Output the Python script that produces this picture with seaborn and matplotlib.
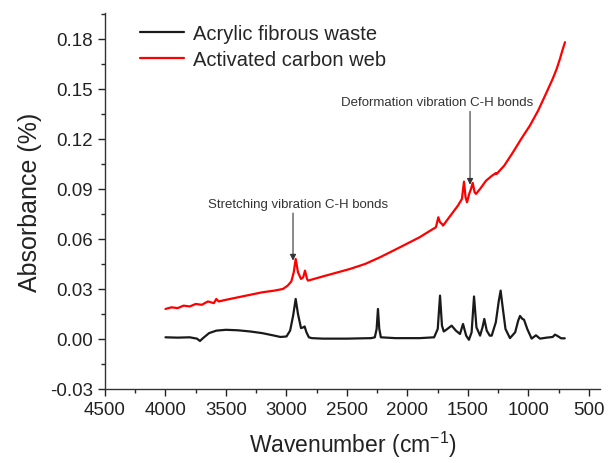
import numpy as np
import pandas as pd
import matplotlib
matplotlib.use("Agg")
import matplotlib.pyplot as plt
import seaborn as sns
from matplotlib.ticker import MultipleLocator

# ---- data ----
black_wn = [4000, 3900, 3800, 3740, 3715, 3690, 3640, 3580, 3500, 3400, 3300, 3200,
            3100, 3050, 3000, 2970, 2945, 2924, 2905, 2880, 2860, 2850, 2835, 2815,
            2790, 2700, 2500, 2300, 2270, 2255, 2244, 2233, 2220, 2100, 1900, 1780,
            1750, 1731, 1715, 1700, 1680, 1635, 1600, 1566, 1541, 1515, 1492, 1470,
            1450, 1430, 1400, 1380, 1365, 1345, 1320, 1304, 1270, 1245, 1230, 1215,
            1190, 1153, 1110, 1085, 1070, 1050, 1037, 1010, 974, 938, 905, 850, 800,
            781, 760, 730, 700]
black_abs = [0.0010, 0.0008, 0.0010, 0.0002, -0.0012, 0.0005, 0.0035, 0.0050, 0.0055, 0.0052, 0.0045, 0.0035,
             0.0020, 0.0012, 0.0015, 0.0050, 0.0140, 0.0240, 0.0150, 0.0065, 0.0070, 0.0075, 0.0040, 0.0010,
             0.0005, 0.0002, 0.0002, 0.0005, 0.0010, 0.0060, 0.0180, 0.0060, 0.0010, 0.0005, 0.0005, 0.0010,
             0.0060, 0.0260, 0.0080, 0.0045, 0.0055, 0.0080, 0.0050, 0.0030, 0.0090, 0.0020, -0.0005, 0.0040,
             0.0255, 0.0070, 0.0020, 0.0070, 0.0120, 0.0050, 0.0020, 0.0020, 0.0100, 0.0230, 0.0290, 0.0200,
             0.0060, 0.0005, 0.0040, 0.0110, 0.0138, 0.0120, 0.0116, 0.0060, 0.0002, 0.0022, 0.0002, 0.0008, 0.0012,
             0.0026, 0.0018, 0.0004, 0.0004]

red_wn = [4000, 3950, 3900, 3850, 3800, 3750, 3700, 3650, 3600, 3580, 3560, 3500, 3400,
          3300, 3200, 3100, 3029, 2990, 2960, 2940, 2924, 2905, 2880, 2862, 2847, 2830,
          2822, 2700, 2600, 2475, 2350, 2227, 2062, 1900, 1800, 1765, 1745, 1731, 1715,
          1706, 1650, 1583, 1550, 1533, 1520, 1508, 1490, 1475, 1461, 1445, 1434, 1400,
          1350, 1300, 1270, 1263, 1200, 1128, 1060, 988, 920, 850, 800, 767, 740, 720, 698]
red_abs = [0.0180, 0.0190, 0.0185, 0.0200, 0.0195, 0.0210, 0.0205, 0.0225, 0.0215, 0.0240, 0.0225, 0.0235, 0.0250,
           0.0265, 0.0280, 0.0290, 0.0300, 0.0320, 0.0345, 0.0400, 0.0480, 0.0400, 0.0360, 0.0370, 0.0410, 0.0360,
           0.0350, 0.0375, 0.0395, 0.0420, 0.0450, 0.0490, 0.0550, 0.0610, 0.0655, 0.0670, 0.0730, 0.0700, 0.0690,
           0.0680, 0.0735, 0.0800, 0.0840, 0.0944, 0.0850, 0.0820, 0.0870, 0.0900, 0.0936, 0.0880, 0.0870, 0.0900,
           0.0950, 0.0980, 0.0995, 0.0990, 0.1040, 0.1120, 0.1200, 0.1280, 0.1370, 0.1480, 0.1560, 0.1620, 0.1680, 0.1730, 0.1780]

series_names = ["Acrylic fibrous waste", "Activated carbon web"]
series_colors = ["#1a1a1a", "#ff0000"]

df = pd.concat([
    pd.DataFrame({"Wavenumber": black_wn, "Absorbance": black_abs, "Sample": series_names[0]}),
    pd.DataFrame({"Wavenumber": red_wn, "Absorbance": red_abs, "Sample": series_names[1]}),
], ignore_index=True)

sns.set_style("ticks")
plt.rcParams["font.family"] = ["Liberation Sans", "DejaVu Sans"]
plt.rcParams["mathtext.default"] = "regular"

fig = plt.figure(figsize=(6.09, 4.64), dpi=100)
ax = fig.add_axes([0.1724, 0.1595, 0.8126, 0.8103])

sns.lineplot(data=df, x="Wavenumber", y="Absorbance", hue="Sample",
             palette=dict(zip(series_names, series_colors)), sort=False,
             estimator=None, linewidth=1.6, ax=ax)

ax.set_xlim(4500, 410)
ax.set_ylim(-0.03, 0.1955)
ax.xaxis.set_major_locator(MultipleLocator(500))
ax.xaxis.set_minor_locator(MultipleLocator(250))
ax.yaxis.set_major_locator(MultipleLocator(0.03))
ax.yaxis.set_minor_locator(MultipleLocator(0.015))
ax.set_yticks([-0.03, 0.0, 0.03, 0.06, 0.09, 0.12, 0.15, 0.18])
ax.set_yticklabels(["-0.03", "0.00", "0.03", "0.06", "0.09", "0.12", "0.15", "0.18"])
ax.tick_params(axis="both", which="major", direction="out", length=5, width=1,
               labelsize=13.5, colors="#222222")
ax.tick_params(axis="both", which="minor", direction="out", length=3, width=1)
for s in ["top", "right"]:
    ax.spines[s].set_visible(False)
for s in ["left", "bottom"]:
    ax.spines[s].set_color("#333333")
    ax.spines[s].set_linewidth(1)

ax.set_xlabel("Wavenumber (cm$^{-1}$)", fontsize=16.5, color="#222222", labelpad=8)
ax.set_ylabel("Absorbance (%)", fontsize=18, color="#222222", labelpad=6)

leg = ax.legend(loc="upper left", bbox_to_anchor=(0.034, 1.02), frameon=False,
                fontsize=14.5, handlelength=2.2, handletextpad=0.45, labelspacing=0.35)
for line in leg.get_lines():
    line.set_linewidth(1.6)

arrow_kw = dict(arrowstyle="-|>", color="#333333", lw=0.8, shrinkA=0, shrinkB=0,
                mutation_scale=9)
ax.text(2905, 0.081, "Stretching vibration C-H bonds", ha="center", va="center",
        fontsize=9.5, color="#333333")
ax.annotate("", xy=(2946, 0.047), xytext=(2946, 0.0755), arrowprops=arrow_kw)
ax.text(1756, 0.142, "Deformation vibration C-H bonds", ha="center", va="center",
        fontsize=9.5, color="#333333")
ax.annotate("", xy=(1483, 0.0925), xytext=(1483, 0.1365), arrowprops=arrow_kw)

fig.savefig("out.png", dpi=100)
